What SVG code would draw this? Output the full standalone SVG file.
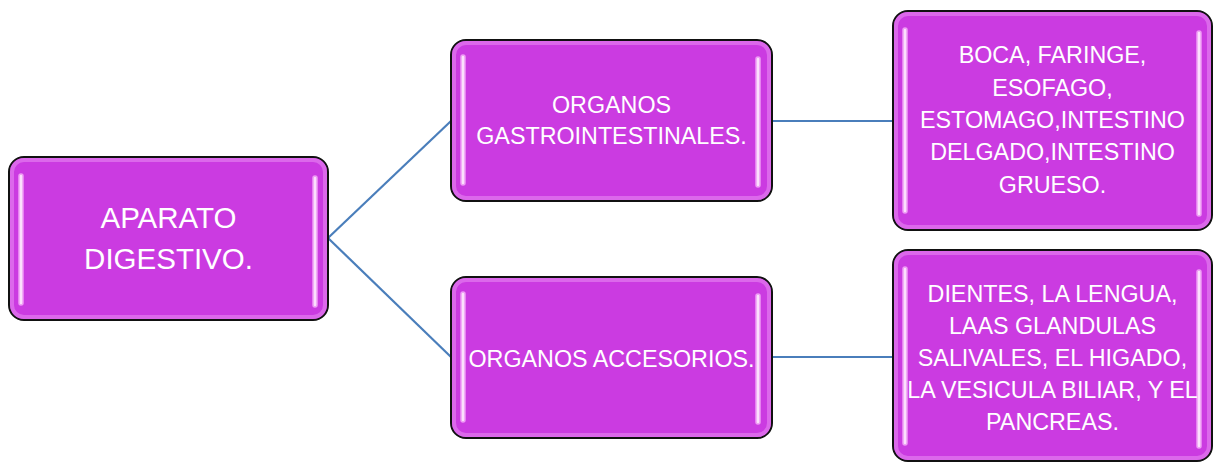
<svg xmlns="http://www.w3.org/2000/svg" width="1214" height="462" viewBox="0 0 1214 462">
<defs>
<style>
.box{fill:#cb3be1;stroke:#111;stroke-width:2}
.glow{fill:none;stroke:#e27cf0;stroke-width:4;opacity:0.7}
.hl{fill:#fbe0fc;stroke:#ef9cf5;stroke-width:1.5}
.t{font-family:"Liberation Sans",Arial,sans-serif;fill:#fff;text-anchor:middle}
.conn{stroke:#4a7ebb;stroke-width:2.2;fill:none}
</style>
</defs>
<rect width="1214" height="462" fill="#fff"/>
<g id="connectors">
<path class="conn" d="M328,238 L451,121"/>
<path class="conn" d="M328,238 L451,357"/>
<path class="conn" d="M772,121 L893,121"/>
<path class="conn" d="M772,357 L893,357"/>
</g>
<g id="n1">
<rect class="box" x="9" y="157" width="319" height="163" rx="15"/>
<rect class="glow" x="12" y="160" width="313" height="157" rx="12"/>
<rect class="hl" x="19" y="174" width="4" height="131" rx="2"/>
<rect class="hl" x="313" y="176" width="4" height="131" rx="2"/>
<text class="t" font-size="29.5" x="168.5" y="228">APARATO</text>
<text class="t" font-size="29.5" x="168.5" y="269">DIGESTIVO.</text>
</g>
<g id="n2">
<rect class="box" x="451" y="40" width="321" height="161" rx="15"/>
<rect class="glow" x="454" y="43" width="315" height="155" rx="12"/>
<rect class="hl" x="461" y="55" width="4" height="130" rx="2"/>
<rect class="hl" x="756" y="57" width="4" height="130" rx="2"/>
<text class="t" font-size="23.3" x="611.5" y="113">ORGANOS</text>
<text class="t" font-size="23.3" x="611.5" y="144">GASTROINTESTINALES.</text>
</g>
<g id="n3">
<rect class="box" x="893" y="11" width="319" height="219" rx="15"/>
<rect class="glow" x="896" y="14" width="313" height="213" rx="12"/>
<rect class="hl" x="903" y="28" width="4" height="185" rx="2"/>
<rect class="hl" x="1197" y="31" width="4" height="185" rx="2"/>
<text class="t" font-size="23.3" x="1052.5" y="63">BOCA, FARINGE,</text>
<text class="t" font-size="23.3" x="1052.5" y="96">ESOFAGO,</text>
<text class="t" font-size="23.3" x="1052.5" y="128">ESTOMAGO,INTESTINO</text>
<text class="t" font-size="23.3" x="1052.5" y="160">DELGADO,INTESTINO</text>
<text class="t" font-size="23.3" x="1052.5" y="193">GRUESO.</text>
</g>
<g id="n4">
<rect class="box" x="893" y="250" width="319" height="211" rx="15"/>
<rect class="glow" x="896" y="253" width="313" height="205" rx="12"/>
<rect class="hl" x="903" y="267" width="4" height="178" rx="2"/>
<rect class="hl" x="1197" y="270" width="4" height="178" rx="2"/>
<text class="t" font-size="23.3" x="1052.5" y="302">DIENTES, LA LENGUA,</text>
<text class="t" font-size="23.3" x="1052.5" y="334">LAAS GLANDULAS</text>
<text class="t" font-size="23.3" x="1052.5" y="366">SALIVALES, EL HIGADO,</text>
<text class="t" font-size="23.3" x="1052.5" y="398">LA VESICULA BILIAR, Y EL</text>
<text class="t" font-size="23.3" x="1052.5" y="430">PANCREAS.</text>
</g>
<g id="n5">
<rect class="box" x="451" y="277" width="321" height="161" rx="15"/>
<rect class="glow" x="454" y="280" width="315" height="155" rx="12"/>
<rect class="hl" x="461" y="292" width="4" height="130" rx="2"/>
<rect class="hl" x="756" y="294" width="4" height="130" rx="2"/>
<text class="t" font-size="23.3" x="611.5" y="367">ORGANOS ACCESORIOS.</text>
</g>
</svg>
